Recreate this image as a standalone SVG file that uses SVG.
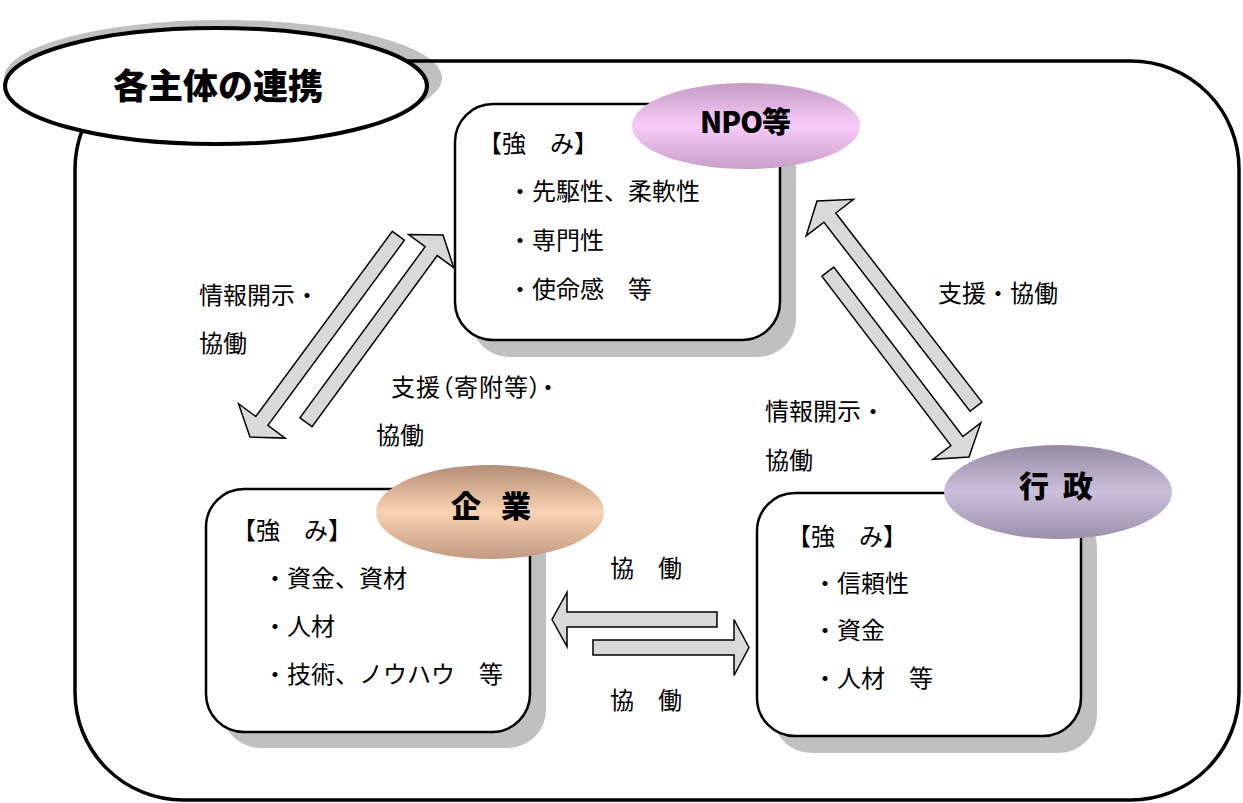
<svg xmlns="http://www.w3.org/2000/svg" width="1243" height="803" viewBox="0 0 1243 803">
<style>
text{font-family:"Noto Sans CJK JP","Noto Sans CJK SC",sans-serif;fill:#000}
.t{font-size:24px}
.h{font-size:30px;font-weight:900}
.box{fill:#fff;stroke:#000;stroke-width:2.5}
.shd{fill:#c0c0c0}
.arr{fill:#d9d9d9;stroke:#000;stroke-width:1.5;stroke-linejoin:miter}
</style>
<defs>
<linearGradient id="gNpo" x1="0" y1="0" x2="0" y2="1">
<stop offset="0" stop-color="#c49cc4"/><stop offset="0.5" stop-color="#f8cbf8"/><stop offset="1" stop-color="#c89fc8"/>
</linearGradient>
<linearGradient id="gKig" x1="0" y1="0" x2="0" y2="1">
<stop offset="0" stop-color="#b48c74"/><stop offset="0.5" stop-color="#f9d3b3"/><stop offset="1" stop-color="#c39a82"/>
</linearGradient>
<linearGradient id="gGyo" x1="0" y1="0" x2="0" y2="1">
<stop offset="0" stop-color="#958aa3"/><stop offset="0.5" stop-color="#cbbfdb"/><stop offset="1" stop-color="#9b8fab"/>
</linearGradient>
</defs>

<g id="frame">
<ellipse cx="223" cy="78" rx="219" ry="58" fill="#c0c0c0"/>
<rect x="75" y="61" width="1164" height="739" rx="108" ry="108" fill="none" stroke="#000" stroke-width="3.5"/>
</g>

<g id="title">
<ellipse cx="216" cy="86" rx="211" ry="58" fill="#fff" stroke="#000" stroke-width="4"/>
<text x="218" y="99" text-anchor="middle" style="font-size:35px;font-weight:900">各主体の連携</text>
</g>

<g id="connectors">
<polygon class="arr" points="0,0 -20,-29 -20,-7.5 -250,-7.5 -250,7.5 -20,7.5 -20,29" transform="translate(250,437) rotate(126.4)"/>
<polygon class="arr" points="0,0 -20,-28 -20,-7.5 -232,-7.5 -232,7.5 -20,7.5 -20,28" transform="translate(443,235) rotate(-53.8)"/>
<polygon class="arr" points="0,0 -21,-30 -21,-7.5 -260,-7.5 -260,7.5 -21,7.5 -21,30" transform="translate(817,201) rotate(-127.7)"/>
<polygon class="arr" points="0,0 -20,-30 -20,-7.5 -233,-7.5 -233,7.5 -20,7.5 -20,30" transform="translate(969,457) rotate(52.7)"/>
<polygon class="arr" points="0,0 -15,-27 -15,-7.5 -165,-7.5 -165,7.5 -15,7.5 -15,27" transform="translate(552,619.5) rotate(180)"/>
<polygon class="arr" points="0,0 -15,-28 -15,-7.5 -156,-7.5 -156,7.5 -15,7.5 -15,28" transform="translate(749,647.5)"/>
</g>

<g id="labels">
<text class="t" x="199" y="304">情報開示・</text>
<text class="t" x="199" y="352">協働</text>
<text class="t" x="391" y="396" style="font-feature-settings:'palt';letter-spacing:1px">支援（寄附等）・</text>
<text class="t" x="376" y="444">協働</text>
<text class="t" x="938" y="302">支援・協働</text>
<text class="t" x="765" y="420">情報開示・</text>
<text class="t" x="765" y="469">協働</text>
<text class="t" x="610" y="577">協　働</text>
<text class="t" x="610" y="709">協　働</text>
</g>

<g id="npo">
<rect class="shd" x="471" y="120" width="325" height="237" rx="38"/>
<rect class="box" x="455" y="104" width="325" height="236" rx="38"/>
<ellipse cx="746" cy="126" rx="114" ry="43" fill="url(#gNpo)"/>
<text x="745" y="133" text-anchor="middle" style="font-size:29px;font-weight:900;letter-spacing:-1px">NPO等</text>
<text class="t" x="478" y="152">【強　み】</text>
<text class="t" x="508" y="200">・先駆性、柔軟性</text>
<text class="t" x="508" y="249">・専門性</text>
<text class="t" x="508" y="298">・使命感　等</text>
</g>

<g id="kigyo">
<rect class="shd" x="222" y="505" width="324" height="243" rx="38"/>
<rect class="box" x="206" y="489" width="324" height="243" rx="38"/>
<ellipse cx="490" cy="512" rx="114" ry="47" fill="url(#gKig)"/>
<text class="h" x="451 501" y="517">企業</text>
<text class="t" x="232" y="539">【強　み】</text>
<text class="t" x="263" y="587">・資金、資材</text>
<text class="t" x="263" y="635">・人材</text>
<text class="t" x="263" y="683">・技術、ノウハウ　等</text>
</g>

<g id="gyosei">
<rect class="shd" x="773" y="509" width="324" height="244" rx="38"/>
<rect class="box" x="757" y="493" width="324" height="243" rx="38"/>
<ellipse cx="1058" cy="492" rx="114" ry="47" fill="url(#gGyo)"/>
<text class="h" x="1019 1063" y="497">行政</text>
<text class="t" x="787" y="545">【強　み】</text>
<text class="t" x="813" y="592">・信頼性</text>
<text class="t" x="813" y="639">・資金</text>
<text class="t" x="813" y="687">・人材　等</text>
</g>
</svg>
